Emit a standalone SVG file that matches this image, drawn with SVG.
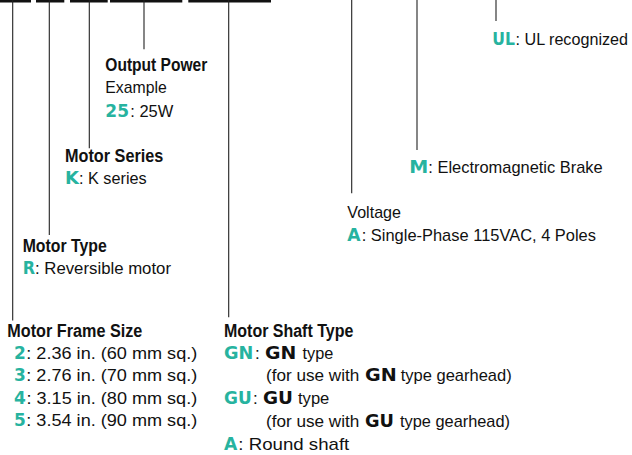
<svg xmlns="http://www.w3.org/2000/svg" width="632" height="455" viewBox="0 0 632 455">
<style>
.h{font-family:"Liberation Sans",Arial,sans-serif;font-weight:bold;font-size:18px;fill:#111}
.t{font-family:"Liberation Sans",Arial,sans-serif;font-size:17px;fill:#111}
.c{font-family:"DejaVu Sans",Verdana,sans-serif;font-weight:bold;font-size:17px;fill:#27b39f}
.k{font-family:"DejaVu Sans",Verdana,sans-serif;font-weight:bold;font-size:17px;fill:#111}
.ln{stroke:#222;stroke-width:1.1;fill:none}
.bar{fill:#111}
</style>
<rect width="632" height="455" fill="#fff"/>
<g id="code-bars">
<rect class="bar" x="0" y="-2" width="31" height="4.5"/>
<rect class="bar" x="36" y="-2" width="28.3" height="4.5"/>
<rect class="bar" x="70" y="-2" width="37.7" height="4.5"/>
<rect class="bar" x="110" y="-2" width="72.3" height="4.5"/>
<rect class="bar" x="188.3" y="-2" width="82.7" height="4.5"/>
</g>
<g id="connectors">
<line class="ln" x1="12.7" y1="0" x2="12.7" y2="320.5"/>
<line class="ln" x1="49.3" y1="0" x2="49.3" y2="235"/>
<line class="ln" x1="89.3" y1="0" x2="89.3" y2="148.3"/>
<line class="ln" x1="144" y1="0" x2="144" y2="49.3"/>
<line class="ln" x1="228.7" y1="0" x2="228.7" y2="317.3"/>
<line class="ln" x1="351.7" y1="0" x2="351.7" y2="193.3"/>
<line class="ln" x1="417" y1="0" x2="417" y2="150"/>
<line class="ln" x1="496" y1="0" x2="496" y2="21"/>
</g>
<g id="output-power">
<text class="h" x="105.3" y="70.7" textLength="102" lengthAdjust="spacingAndGlyphs">Output Power</text>
<text class="t" x="105.3" y="93.3" textLength="61.4" lengthAdjust="spacingAndGlyphs">Example</text>
<text class="c" x="105.3" y="117.3">25</text>
<text class="t" x="130.3" y="117.3" textLength="43" lengthAdjust="spacingAndGlyphs">: 25W</text>
</g>
<g id="motor-series">
<text class="h" x="65" y="161.7" textLength="98.3" lengthAdjust="spacingAndGlyphs">Motor Series</text>
<text class="c" x="65" y="184" textLength="14" lengthAdjust="spacingAndGlyphs">K</text>
<text class="t" x="79" y="184" textLength="67.7" lengthAdjust="spacingAndGlyphs">: K series</text>
</g>
<g id="motor-type">
<text class="h" x="22.7" y="251.7" textLength="84" lengthAdjust="spacingAndGlyphs">Motor Type</text>
<text class="c" x="22.7" y="274.3" textLength="12.3" lengthAdjust="spacingAndGlyphs">R</text>
<text class="t" x="35" y="274.3" textLength="136" lengthAdjust="spacingAndGlyphs">: Reversible motor</text>
</g>
<g id="frame-size">
<text class="h" x="7.3" y="337.3" textLength="135" lengthAdjust="spacingAndGlyphs">Motor Frame Size</text>
<text class="c" x="14" y="358.5">2</text>
<text class="t" x="26.3" y="358.5" textLength="171" lengthAdjust="spacingAndGlyphs">: 2.36 in. (60 mm sq.)</text>
<text class="c" x="14" y="381">3</text>
<text class="t" x="26.3" y="381" textLength="171" lengthAdjust="spacingAndGlyphs">: 2.76 in. (70 mm sq.)</text>
<text class="c" x="14" y="403.5">4</text>
<text class="t" x="26.5" y="403.5" textLength="170.7" lengthAdjust="spacingAndGlyphs">: 3.15 in. (80 mm sq.)</text>
<text class="c" x="14" y="426">5</text>
<text class="t" x="26.3" y="426" textLength="171" lengthAdjust="spacingAndGlyphs">: 3.54 in. (90 mm sq.)</text>
</g>
<g id="shaft-type">
<text class="h" x="224" y="337.3" textLength="129.3" lengthAdjust="spacingAndGlyphs">Motor Shaft Type</text>
<text class="c" x="224" y="359" textLength="29.3" lengthAdjust="spacingAndGlyphs">GN</text>
<text class="t" x="255" y="359">:</text>
<text class="k" x="265" y="359" textLength="31.3" lengthAdjust="spacingAndGlyphs">GN</text>
<text class="t" x="302.5" y="359" textLength="30.8" lengthAdjust="spacingAndGlyphs">type</text>
<text class="t" x="266" y="381" textLength="93.3" lengthAdjust="spacingAndGlyphs">(for use with</text>
<text class="k" x="365" y="381" textLength="31.7" lengthAdjust="spacingAndGlyphs">GN</text>
<text class="t" x="400.7" y="381" textLength="111" lengthAdjust="spacingAndGlyphs">type gearhead)</text>
<text class="c" x="224" y="404" textLength="27.7" lengthAdjust="spacingAndGlyphs">GU</text>
<text class="t" x="253" y="404">:</text>
<text class="k" x="263" y="404" textLength="30" lengthAdjust="spacingAndGlyphs">GU</text>
<text class="t" x="298" y="404" textLength="31.3" lengthAdjust="spacingAndGlyphs">type</text>
<text class="t" x="266" y="427" textLength="93.3" lengthAdjust="spacingAndGlyphs">(for use with</text>
<text class="k" x="365" y="427" textLength="29" lengthAdjust="spacingAndGlyphs">GU</text>
<text class="t" x="400" y="427" textLength="110" lengthAdjust="spacingAndGlyphs">type gearhead)</text>
<text class="c" x="224" y="450" textLength="13.3" lengthAdjust="spacingAndGlyphs">A</text>
<text class="t" x="238.3" y="450" textLength="111" lengthAdjust="spacingAndGlyphs">: Round shaft</text>
</g>
<g id="voltage">
<text class="t" x="347.3" y="217.7" textLength="53.7" lengthAdjust="spacingAndGlyphs">Voltage</text>
<text class="c" x="347.3" y="240.7" textLength="13.3" lengthAdjust="spacingAndGlyphs">A</text>
<text class="t" x="361.7" y="240.7" textLength="234.3" lengthAdjust="spacingAndGlyphs">: Single-Phase 115VAC, 4 Poles</text>
</g>
<g id="brake">
<text class="c" x="409.3" y="172.7" textLength="19" lengthAdjust="spacingAndGlyphs">M</text>
<text class="t" x="428.3" y="172.7" textLength="174.4" lengthAdjust="spacingAndGlyphs">: Electromagnetic Brake</text>
</g>
<g id="ul">
<text class="c" x="492.3" y="45" textLength="22.7" lengthAdjust="spacingAndGlyphs">UL</text>
<text class="t" x="515.5" y="45" style="font-size:16px" textLength="112.5" lengthAdjust="spacingAndGlyphs">: UL recognized</text>
</g>
</svg>
